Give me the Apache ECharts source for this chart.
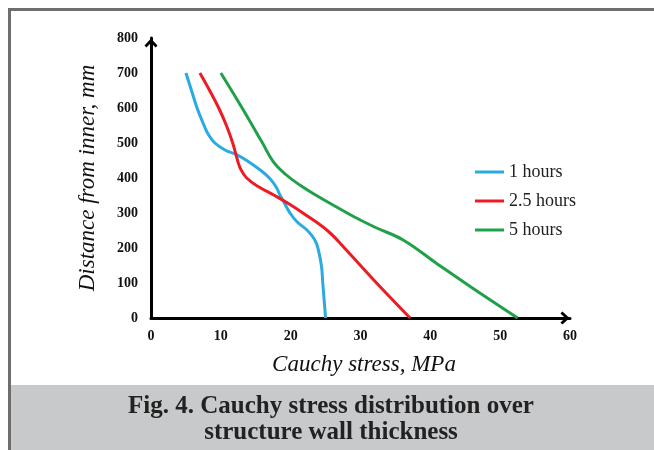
<!DOCTYPE html>
<html><head><meta charset="utf-8">
<script src="https://cdn.jsdelivr.net/npm/echarts@6/dist/echarts.min.js"></script>
<style>html,body{margin:0;padding:0;background:#fff}#c{width:654px;height:450px}</style>
</head><body><div id="c"></div>
<script>
const seriesNames = ['1 hours', '2.5 hours', '5 hours'];
const xTicks = [0, 10, 20, 30, 40, 50, 60];
const yTicks = [0, 100, 200, 300, 400, 500, 600, 700, 800];

const depth1h  = [700, 650, 600, 550, 525, 500, 480, 466, 450, 425, 400, 375, 350, 325, 300, 275, 250, 225, 200, 150, 100, 0];
const stress1h = [5.0, 5.8, 6.6, 7.6, 8.2, 9.15, 10.6, 12.3, 13.7, 15.5, 16.95, 17.9, 18.5, 19.2, 19.9, 20.9, 22.4, 23.4, 23.9, 24.4, 24.6, 25.0];

const depth25h  = [700, 650, 600, 550, 500, 450, 425, 400, 375, 350, 325, 300, 250, 200, 100, 0];
const stress25h = [7.0, 8.4, 9.7, 10.8, 11.7, 12.4, 12.85, 13.7, 15.4, 17.7, 19.85, 21.75, 25.25, 27.7, 32.3, 37.1];

const depth5h  = [700, 600, 504, 447, 410, 380, 350, 320, 290, 260, 223, 156, 90, 0];
const stress5h = [10.0, 13.05, 15.85, 17.5, 19.3, 21.3, 23.7, 26.3, 29.0, 32.0, 36.1, 40.9, 45.7, 52.5];

const zip = (xs, ys) => xs.map((x, i) => [x, ys[i]]);
const colors = ['#29aae1', '#ec1c24', '#21a04a'];
const chevron = 'path://M5,0 L10,5.5 L8.5,7 L5,3.4 L1.5,7 L0,5.5 Z';
const serif = '"Liberation Serif", "DejaVu Serif", serif';

const chart = echarts.init(document.getElementById('c'));
const axisCommon = {
  type: 'value',
  splitLine: {show: false},
  axisTick: {show: false},
  axisLine: {show: true, lineStyle: {color: '#000', width: 3}, symbol: ['none', chevron], symbolSize: [13, 10], symbolOffset: [0, -5]},
  axisLabel: {color: '#111', fontFamily: serif, fontWeight: 'bold', fontSize: 14},
  nameLocation: 'middle',
  nameTextStyle: {color: '#111', fontFamily: serif, fontStyle: 'italic', fontSize: 23}
};
chart.setOption({
  animation: false,
  color: colors,
  grid: {left: 151, right: 84, top: 38, bottom: 132, containLabel: false},
  xAxis: Object.assign({}, axisCommon, {
    min: 0, max: 60, interval: 10,
    name: 'Cauchy stress, MPa', nameGap: 35,
    nameTextStyle: Object.assign({}, axisCommon.nameTextStyle, {padding: [0, 0, 0, 7]}),
    axisLabel: Object.assign({}, axisCommon.axisLabel, {margin: 11, formatter: v => xTicks.includes(v) ? String(v) : ''})
  }),
  yAxis: Object.assign({}, axisCommon, {
    min: 0, max: 800, interval: 100,
    name: 'Distance from inner, mm', nameGap: 52,
    axisLabel: Object.assign({}, axisCommon.axisLabel, {margin: 13, formatter: v => yTicks.includes(v) ? String(v) : ''})
  }),
  legend: {
    orient: 'vertical', left: 475, top: 163, padding: 0, icon: 'rect', itemWidth: 29, itemHeight: 3, itemGap: 11,
    textStyle: {fontFamily: serif, fontSize: 18, color: '#222', lineHeight: 18},
    data: seriesNames
  },
  series: [
    {name: seriesNames[0], type: 'line', data: zip(stress1h, depth1h)},
    {name: seriesNames[1], type: 'line', data: zip(stress25h, depth25h)},
    {name: seriesNames[2], type: 'line', data: zip(stress5h, depth5h)}
  ].map(s => Object.assign(s, {smooth: 0.4, showSymbol: false, symbol: 'none', lineStyle: {width: 3}})),
  graphic: [
    {type: 'rect', shape: {x: 8, y: 385, width: 646, height: 65}, style: {fill: '#c8c9cb'}, silent: true, z: -1},
    {type: 'line', shape: {x1: 8, y1: 9.5, x2: 654, y2: 9.5}, style: {stroke: '#6e6e6e', lineWidth: 3}},
    {type: 'line', shape: {x1: 9.5, y1: 8, x2: 9.5, y2: 450}, style: {stroke: '#6e6e6e', lineWidth: 3}},
    {type: 'text', x: 331, y: 394, style: {text: 'Fig. 4. Cauchy stress distribution over\nstructure wall thickness', fill: '#222', font: 'bold 25px ' + serif, align: 'center', verticalAlign: 'top', lineHeight: 26}}
  ]
});
</script></body></html>
